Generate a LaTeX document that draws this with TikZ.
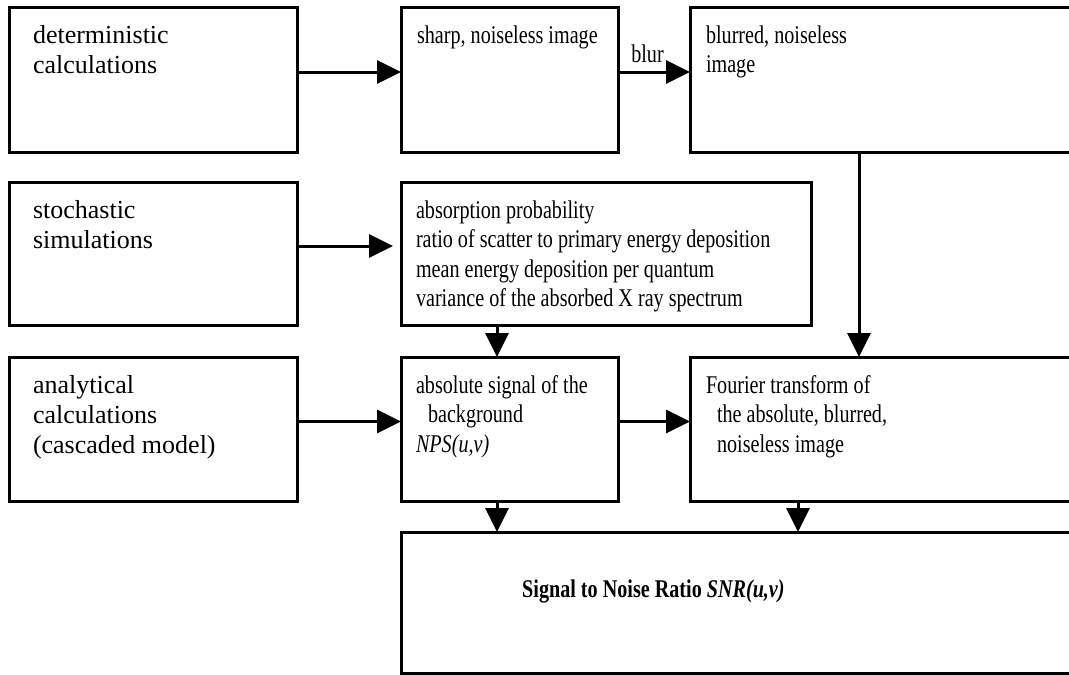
\documentclass[tikz,border=0pt]{standalone}
\usepackage{fontspec}
\setmainfont{Liberation Serif}
\newfontfamily\condf{Liberation Serif}[FakeStretch=0.79]
\usetikzlibrary{arrows.meta,calc}
\begin{document}
\begin{tikzpicture}[x=1pt,y=-1pt,
  box/.style={draw, line width=3pt, rectangle, anchor=north west, inner sep=0pt, outer sep=0pt},
  txt/.style={anchor=north west, inner sep=0pt, outer sep=0pt, align=left, font=\condf\fontsize{25.5}{29.5}\selectfont},
  ltxt/.style={txt, font=\rmfamily\fontsize{26}{30}\selectfont},
  lbl/.style={inner sep=0pt, font=\condf\fontsize{25.5}{29.5}\selectfont},
  arr/.style={line width=3pt, -{Triangle[length=24pt,width=23pt]}}]
\useasboundingbox (0,0) rectangle (1069,675);
\clip (0,0) rectangle (1069,675);
\fill[white] (0,0) rectangle (1069,675);
% boxes
\node[box, minimum width=288pt, minimum height=145pt] (det) at (9,7) {};
\node[box, minimum width=217pt, minimum height=145pt] (sharp) at (401,7) {};
\node[box, minimum width=390pt, minimum height=145pt] (blur) at (690,7) {};
\node[box, minimum width=288pt, minimum height=143pt] (stoch) at (9,182) {};
\node[box, minimum width=410pt, minimum height=143pt] (absorp) at (401,182) {};
\node[box, minimum width=288pt, minimum height=144pt] (anal) at (9,357) {};
\node[box, minimum width=217pt, minimum height=144pt] (abss) at (401,357) {};
\node[box, minimum width=390pt, minimum height=144pt] (four) at (690,357) {};
\node[box, minimum width=680pt, minimum height=141pt] (snr) at (401,532) {};
% texts
\node[ltxt] (tdet) at ($(det.north west)+(24,15)$) {\strut deterministic\\calculations};
\node[txt] (tsharp) at ($(sharp.north west)+(16,15.35)$) {\strut sharp, noiseless image};
\node[txt] (tblur) at ($(blur.north west)+(16,15.35)$) {\strut blurred, noiseless\\image};
\node[ltxt] (tstoch) at ($(stoch.north west)+(24,15)$) {\strut stochastic\\simulations};
\node[txt] (tabsorp) at ($(absorp.north west)+(15,15.35)$) {\strut absorption probability\\ratio of scatter to primary energy deposition\\mean energy deposition per quantum\\variance of the absorbed X ray spectrum};
\node[ltxt] (tanal) at ($(anal.north west)+(24,15)$) {\strut analytical\\calculations\\(cascaded model)};
\node[txt] (tabss) at ($(abss.north west)+(15,15.35)$) {\strut absolute signal of the\\\hspace*{12pt}background\\\textit{NPS(u,v)}};
\node[txt] (tfour) at ($(four.north west)+(16,15.35)$) {\strut Fourier transform of\\\hspace*{11pt}the absolute, blurred,\\\hspace*{11pt}noiseless image};
\node[lbl, anchor=base west] (tsnr) at (522,597) {\textbf{Signal to Noise Ratio \textit{SNR(u,v)}}};
% connector rows/columns
\coordinate (r1) at (0,72);
\coordinate (r2) at (0,246);
\coordinate (r3) at (0,421.5);
\coordinate (c1) at (497,0);
\coordinate (c2) at (798,0);
\coordinate (c3) at (859,0);
\draw[arr] (det.east |- r1) -- (sharp.west |- r1);
\draw[arr] (sharp.east |- r1) -- node[lbl, anchor=base, pos=0.41, yshift=10pt] (tblurlbl) {blur} (blur.west |- r1);
\draw[arr, shorten >=8pt] (stoch.east |- r2) -- (absorp.west |- r2);
\draw[arr] (anal.east |- r3) -- (abss.west |- r3);
\draw[arr] (abss.east |- r3) -- (four.west |- r3);
\draw[arr] (blur.south -| c3) -- (four.north -| c3);
\draw[arr] (absorp.south -| c1) -- (abss.north -| c1);
\draw[arr] (abss.south -| c1) -- (snr.north -| c1);
\draw[arr] (four.south -| c2) -- (snr.north -| c2);
\end{tikzpicture}
\end{document}
